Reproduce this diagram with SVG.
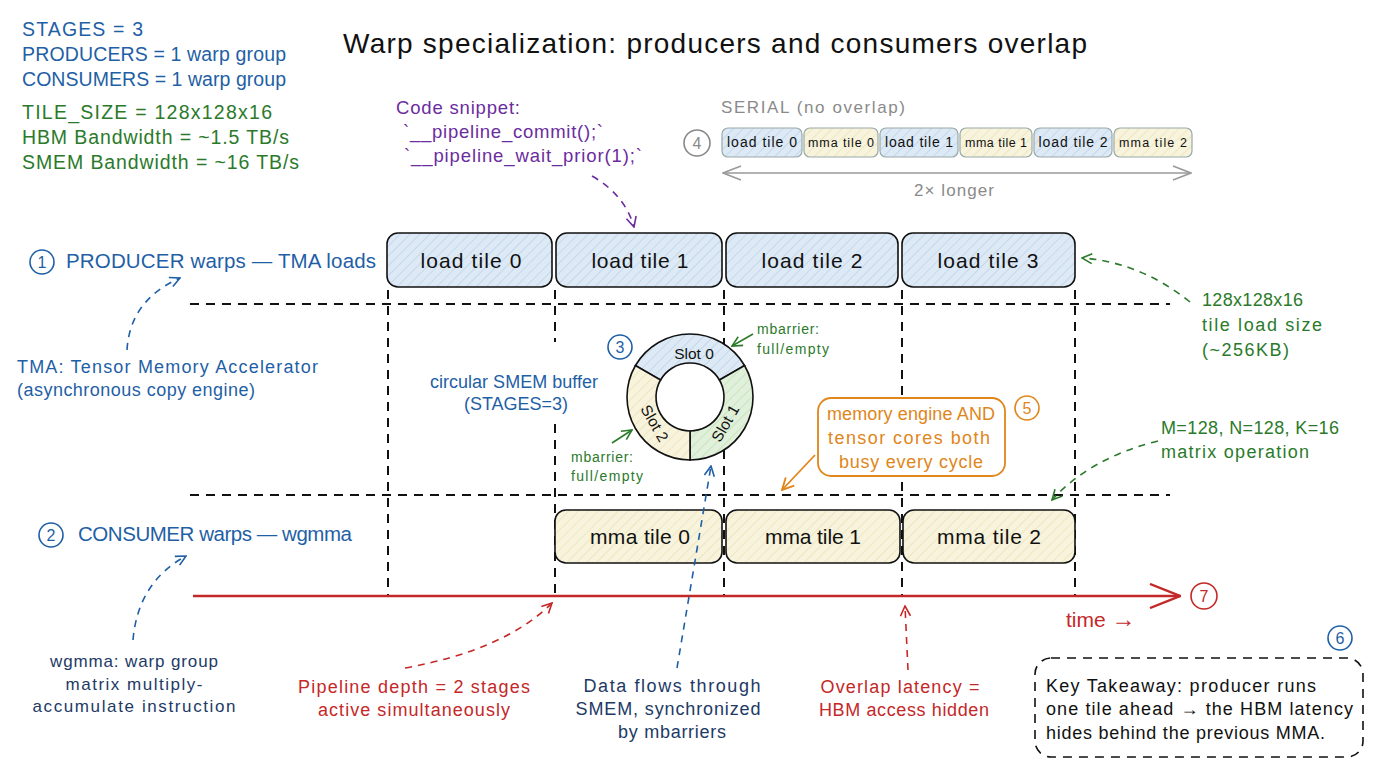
<svg xmlns="http://www.w3.org/2000/svg" width="1376" height="768" viewBox="0 0 1376 768">
<defs>
<pattern id="hb" patternUnits="userSpaceOnUse" width="7" height="7" patternTransform="rotate(45)"><rect width="7" height="7" fill="#dde9f5"/><line x1="0" y1="0" x2="0" y2="7" stroke="#b4cfe8" stroke-width="1.2"/></pattern>
<pattern id="hy" patternUnits="userSpaceOnUse" width="7" height="7" patternTransform="rotate(45)"><rect width="7" height="7" fill="#f7f3dc"/><line x1="0" y1="0" x2="0" y2="7" stroke="#e8dfae" stroke-width="1.2"/></pattern>
<pattern id="hg" patternUnits="userSpaceOnUse" width="7" height="7" patternTransform="rotate(45)"><rect width="7" height="7" fill="#e0f0da"/><line x1="0" y1="0" x2="0" y2="7" stroke="#bcdcb2" stroke-width="1.2"/></pattern>
<marker id="aBlue" viewBox="0 0 12 12" refX="11" refY="6" markerWidth="12" markerHeight="12" markerUnits="userSpaceOnUse" orient="auto"><path d="M1,1 L11,6 L1,11" fill="none" stroke="#1f5fa6" stroke-width="1.6"/></marker>
<marker id="aRed" viewBox="0 0 12 12" refX="11" refY="6" markerWidth="12" markerHeight="12" markerUnits="userSpaceOnUse" orient="auto"><path d="M1,1 L11,6 L1,11" fill="none" stroke="#c42828" stroke-width="1.6"/></marker>
<marker id="aGreen" viewBox="0 0 12 12" refX="11" refY="6" markerWidth="12" markerHeight="12" markerUnits="userSpaceOnUse" orient="auto"><path d="M1,1 L11,6 L1,11" fill="none" stroke="#2b7a2b" stroke-width="1.6"/></marker>
<marker id="aPurple" viewBox="0 0 12 12" refX="11" refY="6" markerWidth="12" markerHeight="12" markerUnits="userSpaceOnUse" orient="auto"><path d="M1,1 L11,6 L1,11" fill="none" stroke="#6b2c9e" stroke-width="1.6"/></marker>
<marker id="aOrange" viewBox="0 0 12 12" refX="11" refY="6" markerWidth="14" markerHeight="14" markerUnits="userSpaceOnUse" orient="auto"><path d="M1,1 L11,6 L1,11" fill="none" stroke="#e0861a" stroke-width="1.6"/></marker>
<marker id="aGray" viewBox="0 0 20 20" refX="19" refY="10" markerWidth="20" markerHeight="20" markerUnits="userSpaceOnUse" orient="auto-start-reverse"><path d="M1,3 L19,10 L1,17" fill="none" stroke="#999" stroke-width="1.5"/></marker>
<marker id="aTime" viewBox="0 0 32 26" refX="31" refY="13" markerWidth="32" markerHeight="26" markerUnits="userSpaceOnUse" orient="auto"><path d="M1,1 L31,13 L1,25" fill="none" stroke="#c42828" stroke-width="2.4"/></marker>
</defs>
<style>
text{font-family:"Liberation Sans",Arial,sans-serif}
.t{fill:#111}
.blue{fill:#1f5fa6}
.green{fill:#2b7a2b}
.purple{fill:#6b2c9e}
.red{fill:#c42828}
.navy{fill:#1d3a66}
.orange{fill:#e0861a}
.gray{fill:#8a8a8a}
.box{stroke:#111;stroke-width:1.6}
.sbox{stroke:#9aa;stroke-width:1.2}
.grid{stroke:#111;stroke-width:2;stroke-dasharray:9 7;fill:none}
.dash{fill:none;stroke-width:1.6;stroke-dasharray:7 6}
.num{fill:none;stroke-width:1.6}
.c{text-anchor:middle}
</style>
<rect width="1376" height="768" fill="#ffffff"/>

<g id="title"><text x="715" y="53" class="t c" font-size="28" textLength="744">Warp specialization: producers and consumers overlap</text></g>

<g id="params" font-size="19.5">
<text x="22" y="36" class="blue" textLength="121">STAGES = 3</text>
<text x="22" y="61" class="blue" textLength="264">PRODUCERS = 1 warp group</text>
<text x="22" y="86" class="blue" textLength="264">CONSUMERS = 1 warp group</text>
<text x="22" y="119" class="green" textLength="250">TILE_SIZE = 128x128x16</text>
<text x="22" y="144" class="green" textLength="267">HBM Bandwidth = ~1.5 TB/s</text>
<text x="22" y="169" class="green" textLength="277">SMEM Bandwidth = ~16 TB/s</text>
</g>

<g id="code-snippet" font-size="18.5">
<text x="396" y="114" class="purple" textLength="124">Code snippet:</text>
<text x="403" y="138" class="purple" textLength="200">`__pipeline_commit();`</text>
<text x="404" y="162" class="purple" textLength="238">`__pipeline_wait_prior(1);`</text>
</g>

<g id="serial">
<text x="721" y="113" class="gray" font-size="17" textLength="184">SERIAL (no overlap)</text>
<circle cx="697" cy="143" r="13" class="num" stroke="#888"/>
<text x="697" y="149" class="gray c" font-size="16">4</text>
<rect x="722" y="128" width="80" height="29" rx="6" fill="url(#hb)" class="sbox"/><text x="762" y="147" class="t c" font-size="14" textLength="70">load tile 0</text>
<rect x="804" y="128" width="74" height="29" rx="6" fill="url(#hy)" class="sbox"/><text x="841" y="147" class="t c" font-size="12.5" textLength="66">mma tile 0</text>
<rect x="880" y="128" width="78" height="29" rx="6" fill="url(#hb)" class="sbox"/><text x="919" y="147" class="t c" font-size="14" textLength="68">load tile 1</text>
<rect x="960" y="128" width="72" height="29" rx="6" fill="url(#hy)" class="sbox"/><text x="996" y="147" class="t c" font-size="12.5" textLength="62">mma tile 1</text>
<rect x="1034" y="128" width="78" height="29" rx="6" fill="url(#hb)" class="sbox"/><text x="1073" y="147" class="t c" font-size="14" textLength="69">load tile 2</text>
<rect x="1114" y="128" width="78" height="29" rx="6" fill="url(#hy)" class="sbox"/><text x="1153" y="147" class="t c" font-size="12.5" textLength="68">mma tile 2</text>
<line x1="723" y1="173" x2="1191" y2="173" stroke="#999" stroke-width="1.5" marker-start="url(#aGray)" marker-end="url(#aGray)"/>
<text x="954" y="196" class="gray c" font-size="17" textLength="80">2× longer</text>
</g>

<g id="grid">
<line x1="190" y1="304" x2="1170" y2="304" class="grid"/>
<line x1="190" y1="495" x2="1170" y2="495" class="grid"/>
<line x1="388" y1="290" x2="388" y2="596" class="grid"/>
<line x1="555" y1="290" x2="555" y2="342" class="grid"/>
<line x1="555" y1="424" x2="555" y2="596" class="grid"/>
<line x1="724" y1="290" x2="724" y2="596" class="grid"/>
<line x1="902" y1="290" x2="902" y2="596" class="grid"/>
<line x1="1075" y1="290" x2="1075" y2="596" class="grid"/>
</g>

<g id="producer-label">
<circle cx="42" cy="262" r="12" class="num" stroke="#1f5fa6"/>
<text x="42" y="268" class="blue c" font-size="16">1</text>
<text x="66" y="268" class="blue" font-size="20.5" textLength="310">PRODUCER warps — TMA loads</text>
</g>

<g id="producer-row" font-size="21">
<rect x="387" y="233" width="165" height="54" rx="11" fill="url(#hb)" class="box"/><text x="471" y="268" class="t c" textLength="101">load tile 0</text>
<rect x="556" y="233" width="166" height="54" rx="11" fill="url(#hb)" class="box"/><text x="640" y="268" class="t c" textLength="97">load tile 1</text>
<rect x="726" y="233" width="172" height="54" rx="11" fill="url(#hb)" class="box"/><text x="812" y="268" class="t c" textLength="101">load tile 2</text>
<rect x="902" y="233" width="173" height="54" rx="11" fill="url(#hb)" class="box"/><text x="988" y="268" class="t c" textLength="101">load tile 3</text>
</g>

<g id="consumer-label">
<circle cx="51" cy="535" r="12" class="num" stroke="#1f5fa6"/>
<text x="51" y="541" class="blue c" font-size="16">2</text>
<text x="78" y="541" class="blue" font-size="20.5" textLength="274">CONSUMER warps — wgmma</text>
</g>

<g id="consumer-row" font-size="21">
<rect x="555" y="510" width="167" height="53" rx="11" fill="url(#hy)" class="box"/><text x="640" y="544" class="t c" textLength="100">mma tile 0</text>
<rect x="726" y="510" width="174" height="53" rx="11" fill="url(#hy)" class="box"/><text x="813" y="544" class="t c" textLength="96">mma tile 1</text>
<rect x="903" y="510" width="172" height="53" rx="11" fill="url(#hy)" class="box"/><text x="989" y="544" class="t c" textLength="104">mma tile 2</text>
</g>

<g id="ring-buffer">
<path d="M635.44 365.5 A63 63 0 0 1 744.56 365.5 L719.44 380 A34 34 0 0 0 660.56 380 Z" fill="url(#hb)" stroke="#111" stroke-width="1.6"/>
<path d="M744.56 365.5 A63 63 0 0 1 690 460 L690 431 A34 34 0 0 0 719.44 380 Z" fill="url(#hg)" stroke="#111" stroke-width="1.6"/>
<path d="M690 460 A63 63 0 0 1 635.44 365.5 L660.56 380 A34 34 0 0 0 690 431 Z" fill="url(#hy)" stroke="#111" stroke-width="1.6"/>
<text x="694" y="359" class="t c" font-size="15.5">Slot 0</text>
<text class="t c" font-size="15.5" transform="translate(730 426) rotate(-60)">Slot 1</text>
<text class="t c" font-size="15.5" transform="translate(650 426) rotate(60)">Slot 2</text>
<circle cx="620" cy="347" r="12" class="num" stroke="#1f5fa6"/>
<text x="620" y="353" class="blue c" font-size="16">3</text>
<text x="514" y="388" class="blue c" font-size="18" textLength="168">circular SMEM buffer</text>
<text x="516" y="410" class="blue c" font-size="18" textLength="104">(STAGES=3)</text>
<text x="757" y="334" class="green" font-size="14" textLength="62">mbarrier:</text>
<text x="757" y="354" class="green" font-size="14" textLength="72">full/empty</text>
<text x="571" y="462" class="green" font-size="14" textLength="62">mbarrier:</text>
<text x="571" y="481" class="green" font-size="14" textLength="72">full/empty</text>
</g>

<g id="overlap-note">
<rect x="818" y="398" width="187" height="78" rx="13" fill="#ffffff" stroke="#e0861a" stroke-width="1.8"/>
<text x="911" y="420" class="orange c" font-size="18" textLength="168">memory engine AND</text>
<text x="909" y="444" class="orange c" font-size="18" textLength="162">tensor cores both</text>
<text x="911" y="468" class="orange c" font-size="18" textLength="144">busy every cycle</text>
<circle cx="1027" cy="408" r="12" class="num" stroke="#e0861a"/>
<text x="1027" y="414" class="orange c" font-size="16">5</text>
</g>

<g id="tile-size-note" font-size="18">
<text x="1202" y="306" class="green" textLength="101">128x128x16</text>
<text x="1202" y="331" class="green" textLength="120">tile load size</text>
<text x="1202" y="356" class="green" textLength="87">(~256KB)</text>
</g>

<g id="matrix-note" font-size="18">
<text x="1161" y="434" class="green" textLength="178">M=128, N=128, K=16</text>
<text x="1161" y="458" class="green" textLength="148">matrix operation</text>
</g>

<g id="tma-note" font-size="18">
<text x="17" y="373" class="blue" textLength="301">TMA: Tensor Memory Accelerator</text>
<text x="17" y="396" class="blue" textLength="238">(asynchronous copy engine)</text>
</g>

<g id="wgmma-note" font-size="17">
<text x="134" y="667" class="navy c" textLength="168">wgmma: warp group</text>
<text x="134" y="690" class="navy c" textLength="137">matrix multiply-</text>
<text x="134" y="712" class="navy c" textLength="203">accumulate instruction</text>
</g>

<g id="pipeline-note" font-size="18">
<text x="414" y="693" class="red c" textLength="232">Pipeline depth = 2 stages</text>
<text x="414" y="716" class="red c" textLength="192">active simultaneously</text>
</g>

<g id="dataflow-note" font-size="18">
<text x="672" y="692" class="navy c" textLength="177">Data flows through</text>
<text x="668" y="715" class="navy c" textLength="185">SMEM, synchronized</text>
<text x="672" y="738" class="navy c" textLength="108">by mbarriers</text>
</g>

<g id="latency-note" font-size="18">
<text x="900" y="693" class="red c" textLength="159">Overlap latency =</text>
<text x="904" y="716" class="red c" textLength="170">HBM access hidden</text>
</g>

<g id="takeaway">
<rect x="1035" y="658" width="328" height="99" rx="16" fill="none" stroke="#111" stroke-width="1.6" stroke-dasharray="9 7"/>
<text x="1046" y="692" class="t" font-size="18" textLength="270">Key Takeaway: producer runs</text>
<text x="1046" y="715" class="t" font-size="18" textLength="307">one tile ahead → the HBM latency</text>
<text x="1046" y="739" class="t" font-size="18" textLength="279">hides behind the previous MMA.</text>
<circle cx="1340" cy="638" r="12" class="num" stroke="#1f5fa6"/>
<text x="1340" y="644" class="blue c" font-size="16">6</text>
</g>

<g id="time-axis">
<line x1="193" y1="596" x2="1180" y2="596" stroke="#c42828" stroke-width="2.4" marker-end="url(#aTime)"/>
<circle cx="1204" cy="596" r="13" class="num" stroke="#c42828"/>
<text x="1204" y="602" class="red c" font-size="16">7</text>
<text x="1066" y="627" class="red" font-size="21">time <tspan font-size="24">→</tspan></text>
</g>

<g id="connectors">
<path d="M592 176 Q625 195 634 227" class="dash" stroke="#6b2c9e" marker-end="url(#aPurple)"/>
<path d="M127 350 Q130 300 180 278" class="dash" stroke="#1f5fa6" marker-end="url(#aBlue)"/>
<path d="M133 640 Q138 582 186 556" class="dash" stroke="#1f5fa6" marker-end="url(#aBlue)"/>
<path d="M405 668 Q505 650 552 603" class="dash" stroke="#c42828" marker-end="url(#aRed)"/>
<path d="M677 668 L711 466" class="dash" stroke="#1f5fa6" marker-end="url(#aBlue)"/>
<path d="M908 670 L905 606" class="dash" stroke="#c42828" marker-end="url(#aRed)"/>
<path d="M1190 302 Q1140 262 1082 258" class="dash" stroke="#2b7a2b" marker-end="url(#aGreen)"/>
<path d="M1158 441 Q1090 458 1052 500" class="dash" stroke="#2b7a2b" marker-end="url(#aGreen)"/>
<path d="M815 455 L782 490" fill="none" stroke="#e0861a" stroke-width="1.8" marker-end="url(#aOrange)"/>
<path d="M612 443 L632 430" fill="none" stroke="#2b7a2b" stroke-width="1.6" marker-end="url(#aGreen)"/>
<path d="M753 334 L732 346" fill="none" stroke="#2b7a2b" stroke-width="1.6" marker-end="url(#aGreen)"/>
</g>
</svg>
